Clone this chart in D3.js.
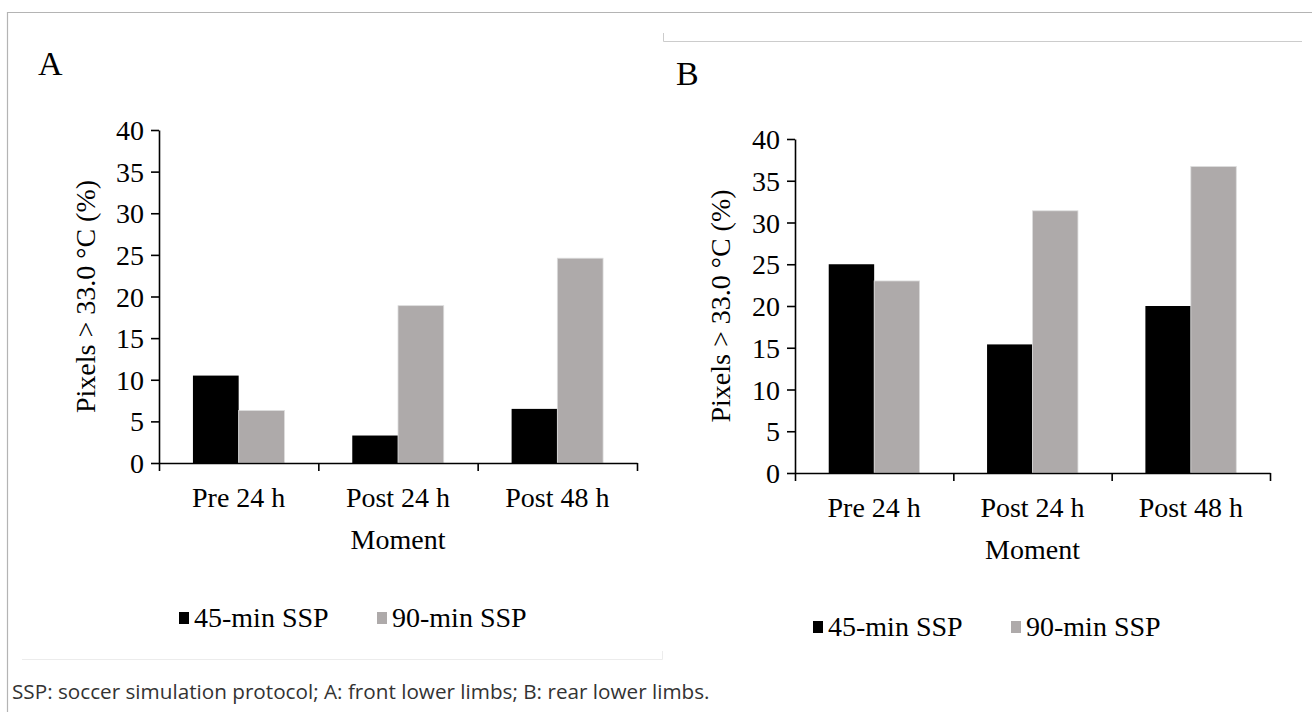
<!DOCTYPE html>
<html>
<head>
<meta charset="utf-8">
<script src="https://cdn.jsdelivr.net/npm/d3@7"></script>
<style>
  html, body { margin: 0; padding: 0; background: #fff; }
  svg { display: block; }
</style>
</head>
<body>
<div id="chart"></div>
<script>
// data
const categories = ['Pre 24 h', 'Post 24 h', 'Post 48 h'];
const seriesNames = ['45-min SSP', '90-min SSP'];
const frontSSP45 = [10.5, 3.3, 6.5];
const frontSSP90 = [6.3, 18.9, 24.6];
const rearSSP45 = [25.0, 15.4, 20.0];
const rearSSP90 = [23.0, 31.4, 36.7];
const yTicks = [0, 5, 10, 15, 20, 25, 30, 35, 40];
const colors = ['#000000', '#aeaaaa'];
const yTitle = 'Pixels > 33.0 \u00B0C (%)';
const xTitle = 'Moment';
const caption = 'SSP: soccer simulation protocol; A: front lower limbs; B: rear lower limbs.';

const serif = '"Liberation Serif", "Times New Roman", serif';
const width = 1312;
const height = 712;

const svg = d3.select('#chart')
  .append('svg')
  .attr('width', width)
  .attr('height', height);

// page frame lines
svg.append('path')
  .attr('d', 'M7.5,712 V12.5 H1312')
  .attr('fill', 'none')
  .attr('stroke', '#b4b4b4')
  .attr('stroke-width', 1.2);
svg.append('path')
  .attr('d', 'M663.5,33 V41.5 H1302')
  .attr('fill', 'none')
  .attr('stroke', '#cccccc')
  .attr('stroke-width', 1);
svg.append('path')
  .attr('d', 'M22,659.5 H662.5 V651')
  .attr('fill', 'none')
  .attr('stroke', '#ececec')
  .attr('stroke-width', 1);

function drawPanel(p) {
  const g = svg.append('g')
    .attr('font-family', serif)
    .attr('fill', '#000');

  const y = d3.scaleLinear()
    .domain([0, 40])
    .range([p.bottom, p.top]);

  const x0 = d3.scaleBand()
    .domain(categories)
    .range([p.left, p.right])
    .padding(0);

  const bw = x0.bandwidth();
  const x1 = d3.scaleBand()
    .domain(seriesNames)
    .range([bw * 0.213, bw * 0.787])
    .padding(0);

  const rows = categories.map((c, i) => ({
    cat: c,
    vals: [{ s: seriesNames[0], v: p.s45[i] }, { s: seriesNames[1], v: p.s90[i] }]
  }));

  g.append('g')
    .selectAll('g')
    .data(rows)
    .join('g')
    .attr('transform', (d) => `translate(${x0(d.cat)},0)`)
    .selectAll('rect')
    .data((d) => d.vals)
    .join('rect')
    .attr('x', (d) => x1(d.s))
    .attr('y', (d) => y(d.v))
    .attr('width', x1.bandwidth())
    .attr('height', (d) => y(0) - y(d.v))
    .attr('fill', (d, i) => colors[i])
    .attr('stroke', (d, i) => (i === 1 ? '#dcdcdc' : 'none'))
    .attr('stroke-width', 0.8);

  // y axis
  const yAxis = g.append('g')
    .attr('transform', `translate(${p.left},0)`)
    .call(d3.axisLeft(y).tickValues(yTicks).tickSize(8).tickSizeOuter(0).tickPadding(7));
  yAxis.attr('font-family', serif).attr('font-size', 28);
  yAxis.select('.domain').attr('stroke', '#000').attr('stroke-width', 1.6);
  yAxis.selectAll('.tick line').attr('stroke', '#000').attr('stroke-width', 1.6);
  yAxis.selectAll('.tick text')
    .attr('fill', '#000')
    .attr('dy', '0.34em');

  // x axis: tick marks sit on the category edges
  const xEdge = d3.scaleLinear().domain([0, categories.length]).range([p.left, p.right]);
  const xAxis = g.append('g')
    .attr('transform', `translate(0,${p.bottom})`)
    .call(d3.axisBottom(xEdge).tickValues(d3.range(categories.length + 1)).tickFormat('').tickSize(8).tickSizeOuter(0));
  xAxis.select('.domain').attr('stroke', '#000').attr('stroke-width', 1.6);
  xAxis.selectAll('.tick line').attr('stroke', '#000').attr('stroke-width', 1.6);

  // category labels
  const xLab = g.append('g')
    .attr('transform', `translate(0,${p.bottom})`)
    .call(d3.axisBottom(x0).tickSize(0).tickPadding(0));
  xLab.attr('font-family', serif).attr('font-size', 28);
  xLab.select('.domain').remove();
  xLab.selectAll('.tick text')
    .attr('fill', '#000')
    .attr('y', 44)
    .attr('dy', 0);

  g.append('text')
    .attr('font-size', 28)
    .attr('text-anchor', 'middle')
    .attr('x', (p.left + p.right) / 2)
    .attr('y', p.bottom + 86)
    .text(xTitle);

  g.append('text')
    .attr('font-size', 28)
    .attr('text-anchor', 'middle')
    .attr('transform', `translate(${p.yTitleX},${(p.top + p.bottom) / 2}) rotate(-90)`)
    .attr('dy', '0.35em')
    .text(yTitle);

  g.append('text')
    .attr('font-size', 34)
    .attr('x', p.tagX)
    .attr('y', p.tagY)
    .text(p.tag);

  // legend
  const lg = g.append('g')
    .attr('transform', `translate(${p.legX},${p.legY})`);
  const items = lg.selectAll('g')
    .data(seriesNames)
    .join('g')
    .attr('transform', (d, i) => `translate(${i * 198},0)`);
  items.append('rect')
    .attr('x', 0)
    .attr('y', -15)
    .attr('width', 10)
    .attr('height', 12)
    .attr('fill', (d, i) => colors[i]);
  items.append('text')
    .attr('font-size', 28)
    .attr('x', 15)
    .attr('y', 0)
    .text((d) => d);
}

drawPanel({
  tag: 'A', tagX: 38, tagY: 75,
  left: 159, right: 637, top: 130, bottom: 463,
  yTitleX: 85,
  s45: frontSSP45, s90: frontSSP90,
  legX: 179, legY: 627
});

drawPanel({
  tag: 'B', tagX: 676, tagY: 85,
  left: 795, right: 1270, top: 139, bottom: 473,
  yTitleX: 720,
  s45: rearSSP45, s90: rearSSP90,
  legX: 813, legY: 636
});

// caption under both panels
const cap = svg.append('text')
  .attr('x', 12)
  .attr('y', 699)
  .attr('font-family', '"Open Sans", "Noto Sans", sans-serif')
  .attr('font-size', 18)
  .attr('fill', '#333')
  .text(caption);
const capW = cap.node().getComputedTextLength();
cap.attr('font-size', 18 * 698 / capW);
</script>
</body>
</html>
